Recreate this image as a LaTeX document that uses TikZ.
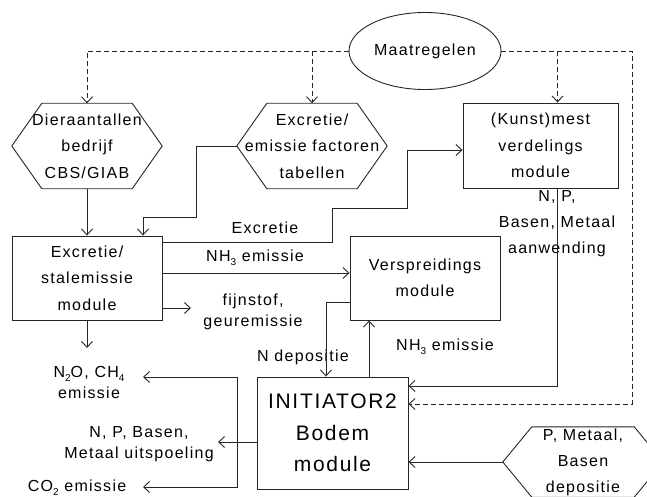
\documentclass[tikz,border=0pt]{standalone}
\usepackage{fontspec}
\setmainfont{Liberation Sans}[LetterSpace=8]
\usetikzlibrary{arrows.meta,shapes.geometric}
\newcommand{\lowidx}[1]{\raisebox{-0.5ex}{\fontsize{10}{10}\selectfont #1}}
\newcommand{\hexoutline}[2]{\draw[line] (#1.west) -- ([xshift=#2]#1.north west) -- ([xshift=-#2]#1.north east) -- (#1.east) -- ([xshift=-#2]#1.south east) -- ([xshift=#2]#1.south west) -- cycle;}
\begin{document}
\begin{tikzpicture}[x=1pt,y=-1pt,
 line/.style={line width=0.9pt, draw=black!85},
 arr/.style={line, -{Straight Barb[length=6pt,width=11pt]}},
 darr/.style={arr, dash pattern=on 5pt off 3pt},
 box/.style={draw, line, rectangle, align=center, font=\fontsize{16}{26.5}\selectfont, inner sep=0pt},
 hexbox/.style={rectangle, align=center, font=\fontsize{16}{26.5}\selectfont, inner sep=0pt},
 lbl/.style={align=center, font=\fontsize{16}{21}\selectfont, inner sep=0pt}
]
\useasboundingbox (0,0) rectangle (647,497);
% nodes
\node[ellipse, draw, line, minimum width=152, minimum height=77, inner sep=0pt, font=\fontsize{16}{20}\selectfont] (maat) at (425,51) {Maatregelen};
\node[hexbox, minimum width=150, minimum height=85] (dier) at (87,146) {Dieraantallen\\bedrijf\\CBS/GIAB};
\node[hexbox, minimum width=150, minimum height=85] (exhex) at (312,146) {Excretie/\\emissie factoren\\tabellen};
\node[box, minimum width=155, minimum height=85] (kunst) at (540.5,145.5) {(Kunst)mest\\verdelings\\module};
\node[box, minimum width=150, minimum height=84] (excr) at (87,278) {Excretie/\\stalemissie\\module};
\node[box, minimum width=150, minimum height=84] (versp) at (425,278) {Verspreidings\\module};
\node[box, minimum width=151, minimum height=112, font=\fontsize{21}{31.5}\selectfont] (init) at (332.5,433) {INITIATOR2\\Bodem\\module};
\node[hexbox, minimum width=160, minimum height=70, font=\fontsize{16}{26}\selectfont] (phex) at (583,462) {P, Metaal,\\Basen\\depositie};
\hexoutline{dier}{30pt}
\hexoutline{exhex}{30pt}
\hexoutline{phex}{29pt}
% labels
\node[lbl] (lexcr) at (265,228) {Excretie};
\node[lbl] (lnh3a) at (255,258) {NH\lowidx{3} emissie};
\node[lbl] (lfijn) at (253,312) {fijnstof,\\geuremissie};
\node[lbl] (ldep) at (303,357) {N depositie};
\node[lbl] (lnh3b) at (445,347) {NH\lowidx{3} emissie};
\node[lbl, font=\fontsize{16}{26}\selectfont] (laanw) at (557,224) {N, P,\\Basen, Metaal\\aanwending};
\node[lbl] (ln2o) at (89,382) {N\lowidx{2}O, CH\lowidx{4}\\emissie};
\node[lbl] (luits) at (139,444) {N, P, Basen,\\Metaal uitspoeling};
\node[lbl] (lco2) at (77,488) {CO\lowidx{2} emissie};
% coordinates
\coordinate (dr) at (632,51);
\coordinate (fe) at (191,308);
\coordinate (ue) at (218,442);
\coordinate (br) at (237,442);
\coordinate (n2oe) at (143,377);
\coordinate (co2e) at (143,487);
\coordinate (exe) at (87,348);
% dashed connectors
\draw[darr] (maat.west) -| (dier.north);
\draw[darr] (exhex.north |- maat.west) -- (exhex.north);
\draw[darr] (maat.east) -| ([xshift=17pt]kunst.north);
\draw[darr] (maat.east) -- (dr) |- ([yshift=29pt]init.east);
% solid connectors
\draw[arr] (dier.south) -- (excr.north);
\draw[arr] (exhex.west) -| (196,217) -| ([xshift=56pt]excr.north);
\draw[arr] ([yshift=36pt]excr.east) -| (332,208) -| (407,150) -- ([yshift=-4.5pt]kunst.west);
\draw[arr] ([yshift=5pt]excr.east) -- ([yshift=5pt]versp.west);
\draw[arr] (excr.east |- fe) -- (fe);
\draw[arr] ([xshift=17pt]kunst.south) |- ([yshift=47pt]init.east);
\draw[arr] ([yshift=-24pt]versp.west) -| ([xshift=-6.5pt]init.north);
\draw[arr] ([xshift=36.5pt]init.north) -- ([xshift=36.5pt]init.north |- versp.south);
\draw[arr] (phex.west) -- (init.east |- phex.west);
\draw[arr] ([yshift=-9pt]init.west) -- (ue);
\draw[arr] (br) |- (n2oe);
\draw[arr] (br) |- (co2e);
\draw[arr] (excr.south) -- (exe);
\end{tikzpicture}
\end{document}
